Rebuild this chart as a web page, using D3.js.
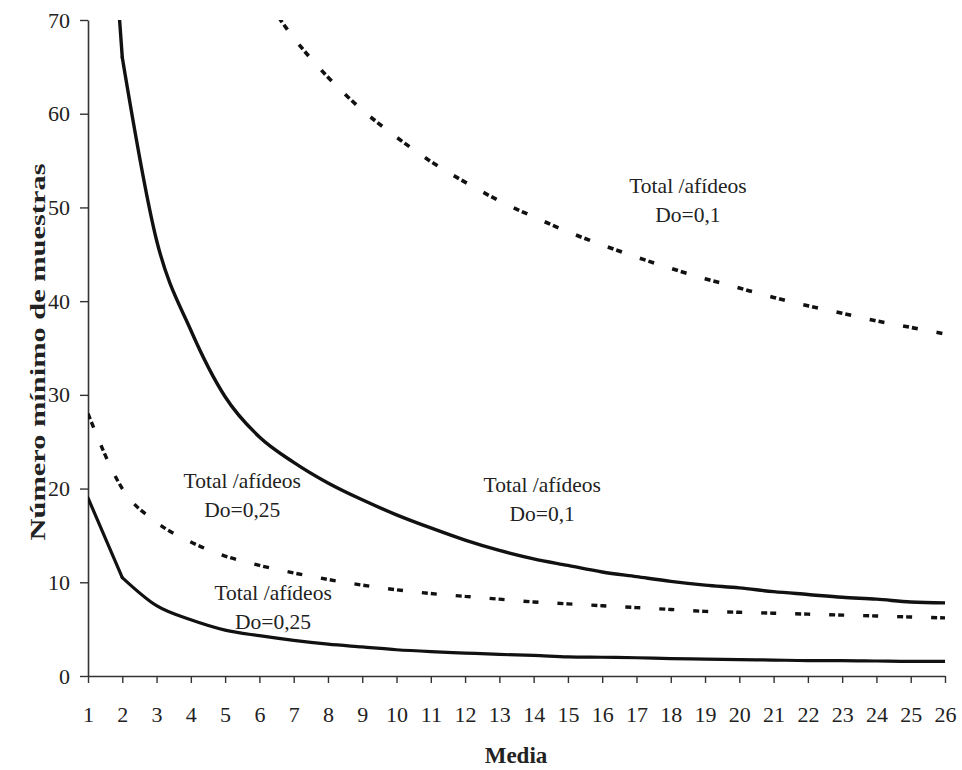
<!DOCTYPE html>
<html>
<head>
<meta charset="utf-8">
<script src="https://cdn.jsdelivr.net/npm/d3@7"></script>
<style>
  body { margin: 0; background: #fff; }
  svg { display: block; }
  text { font-family: "Liberation Serif", "Times New Roman", serif; fill: #222; }
</style>
</head>
<body>
<div class="chart"></div>
<script>
// x categories (media)
const media = [1, 2, 3, 4, 5, 6, 7, 8, 9, 10, 11, 12, 13, 14, 15, 16, 17, 18, 19, 20, 21, 22, 23, 24, 25, 26];
const yTicks = [0, 10, 20, 30, 40, 50, 60, 70];

// numero minimo de muestras
const solidDo01 = [117, 66, 46.5, 36.9, 29.8, 25.5, 22.8, 20.6, 18.8, 17.2, 15.8, 14.5, 13.4, 12.5, 11.8, 11.1, 10.6, 10.1, 9.7, 9.4, 9.0, 8.7, 8.4, 8.2, 7.9, 7.8];
const dashedDo01 = [null, null, null, null, null, 73.3, 68.1, 63.9, 60.4, 57.5, 54.9, 52.7, 50.7, 49.0, 47.4, 46.0, 44.7, 43.5, 42.4, 41.4, 40.4, 39.5, 38.7, 37.9, 37.2, 36.5];
const dashedDo025 = [28.0, 20.0, 16.4, 14.3, 12.8, 11.8, 11.0, 10.3, 9.7, 9.2, 8.8, 8.5, 8.2, 7.9, 7.7, 7.5, 7.3, 7.1, 6.9, 6.8, 6.7, 6.6, 6.5, 6.4, 6.3, 6.2];
const solidDo025 = [19.0, 10.5, 7.5, 6.0, 4.9, 4.3, 3.8, 3.4, 3.1, 2.8, 2.6, 2.45, 2.3, 2.2, 2.05, 2.0, 1.95, 1.85, 1.8, 1.75, 1.7, 1.65, 1.65, 1.6, 1.55, 1.55];

// labels anchored in data units: [media, value, line1, line2]
const notes = [
  [18.5, 51.5, "Total /afídeos", "Do=0,1"],
  [14.25, 19.6, "Total /afídeos", "Do=0,1"],
  [5.5, 20.1, "Total /afídeos", "Do=0,25"],
  [6.4, 8.1, "Total /afídeos", "Do=0,25"]
];

const width = 962, height = 770;
const margin = { top: 20, right: 17, bottom: 94, left: 88 };

const svg = d3.select(".chart").append("svg")
  .attr("width", width)
  .attr("height", height);

const x = d3.scaleLinear()
  .domain([1, 26])
  .range([margin.left, width - margin.right]);

const y = d3.scaleLinear()
  .domain([0, 70])
  .range([height - margin.bottom, margin.top]);

svg.append("clipPath").attr("id", "plot")
  .append("rect")
  .attr("x", x(1))
  .attr("y", y(70))
  .attr("width", x(26) - x(1))
  .attr("height", y(0) - y(70));

const addXAxis = () => {
  const g = svg.append("g")
    .attr("transform", "translate(0," + y(0) + ")")
    .call(d3.axisBottom(x).tickValues(media).tickFormat(d3.format("d"))
      .tickSize(7).tickSizeOuter(0).tickPadding(23));
  g.select(".domain").attr("stroke", "#333").attr("stroke-width", 1.6);
  g.selectAll(".tick line").attr("stroke", "#333").attr("stroke-width", 1.4);
  g.selectAll("text").attr("font-size", 22).attr("fill", "#222")
    .style("font-family", "'Liberation Serif', serif");
}

const addYAxis = () => {
  const g = svg.append("g")
    .attr("transform", "translate(" + x(1) + ",0)")
    .call(d3.axisLeft(y).tickValues(yTicks)
      .tickSize(8).tickSizeOuter(0).tickPadding(10));
  g.select(".domain").attr("stroke", "#333").attr("stroke-width", 1.6);
  g.selectAll(".tick line").attr("stroke", "#333").attr("stroke-width", 1.4);
  g.selectAll("text").attr("font-size", 22).attr("fill", "#222")
    .style("font-family", "'Liberation Serif', serif");
}

const smooth = d3.line()
  .defined(d => d[1] != null)
  .curve(d3.curveMonotoneX)
  .x(d => x(d[0]))
  .y(d => y(d[1]));

const straight = d3.line()
  .x(d => x(d[0]))
  .y(d => y(d[1]));

const drawPath = (pts, d, dashed, w) => {
  svg.append("path")
    .datum(pts)
    .attr("clip-path", "url(#plot)")
    .attr("fill", "none")
    .attr("stroke", "#111")
    .attr("stroke-width", w)
    .attr("stroke-linejoin", "round")
    .attr("stroke-linecap", dashed ? "butt" : "round")
    .attr("stroke-dasharray", dashed ? "6 3 6 19" : null)
    .attr("d", d);
}

const addSeries = (values, dashed, w) => {
  const pts = media.map((m, i) => [m, values[i]]);
  if (dashed) {
    drawPath(pts, smooth, true, w);
  } else {
    // sharp corner at media 2, smooth afterwards
    drawPath(pts.slice(0, 2), straight, false, w);
    drawPath(pts.slice(1), smooth, false, w);
  }
}

addXAxis();
addYAxis();
addSeries(solidDo01, false, 3.4);
addSeries(dashedDo01, true, 3.6);
addSeries(dashedDo025, true, 3.4);
addSeries(solidDo025, false, 3.2);

// annotations
notes.forEach(n => {
  const t = svg.append("text")
    .attr("x", x(n[0]))
    .attr("y", y(n[1]))
    .attr("text-anchor", "middle")
    .attr("font-size", 21.5);
  t.append("tspan").attr("x", x(n[0])).text(n[2]);
  t.append("tspan").attr("x", x(n[0])).attr("dy", 29).text(n[3]);
});

// axis titles
svg.append("text")
  .attr("transform", "translate(45," + 352 + ") rotate(-90)")
  .attr("text-anchor", "middle")
  .attr("font-size", 22)
  .attr("font-weight", "bold")
  .attr("textLength", 377)
  .attr("lengthAdjust", "spacingAndGlyphs")
  .text("Número mínimo de muestras");

svg.append("text")
  .attr("x", 516)
  .attr("y", 763)
  .attr("text-anchor", "middle")
  .attr("font-size", 23)
  .attr("font-weight", "bold")
  .text("Media");
</script>
</body>
</html>
